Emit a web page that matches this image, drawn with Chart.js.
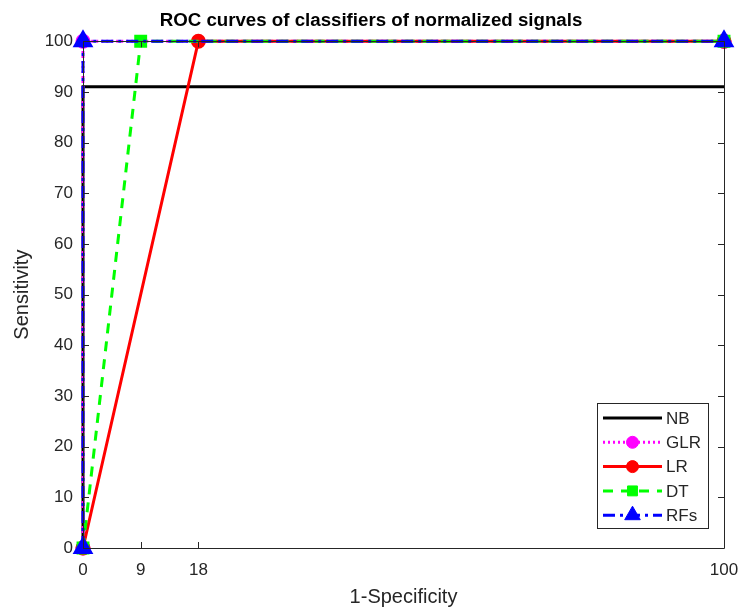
<!DOCTYPE html>
<html>
<head>
<meta charset="utf-8">
<script src="https://cdn.jsdelivr.net/npm/chart.js@4"></script>
<style>
    html, body { margin: 0; padding: 0; background: #ffffff; }
    #wrap { width: 740px; height: 609px; }
</style>
</head>
<body>
<div id="wrap"><canvas id="roc"></canvas></div>
<script>
// 數據 (1-Specificity, Sensitivity)
const seriesNames = ['NB', 'GLR', 'LR', 'DT', 'RFs'];
const nbX = [0, 0, 100];
const nbY = [0, 91, 91];
const glrX = [0, 0, 100];
const glrY = [0, 100, 100];
const lrX = [0, 18, 100];
const lrY = [0, 100, 100];
const dtX = [0, 9, 100];
const dtY = [0, 100, 100];
const rfX = [0, 0, 100];
const rfY = [0, 100, 100];
const xTicks = [0, 9, 18, 100];
const yTicks = [0, 10, 20, 30, 40, 50, 60, 70, 80, 90, 100];

const textColor = '#262626';
const axisColor = '#262626';
const fontFamily = '"Liberation Sans", Arial, sans-serif';

function toPoints(xs, ys) {
    return xs.map((x, i) => ({ x: x, y: ys[i] }));
}

// 標題置中於整張圖
const titleShift = {
    id: 'titleShift',
    afterLayout(chart) {
        if (chart.titleBlock) {
            chart.titleBlock.left += 18;
        }
    }
};

// 畫外框和向內刻度 (MATLAB 風格)
const boxPlugin = {
    id: 'boxPlugin',
    afterDatasetsDraw(chart) {
        const ctx = chart.ctx;
        const a = chart.chartArea;
        const xs = chart.scales.x;
        const ys = chart.scales.y;
        ctx.save();
        ctx.strokeStyle = axisColor;
        ctx.lineWidth = 1;
        ctx.beginPath();
        ctx.rect(Math.round(a.left) + 0.5, Math.round(a.top) + 0.5,
            Math.round(a.right - a.left), Math.round(a.bottom - a.top));
        ctx.stroke();
        const tl = 6;
        ctx.beginPath();
        xTicks.forEach(v => {
            const px = Math.round(xs.getPixelForValue(v)) + 0.5;
            ctx.moveTo(px, a.bottom); ctx.lineTo(px, a.bottom - tl);
            ctx.moveTo(px, a.top); ctx.lineTo(px, a.top + tl);
        });
        yTicks.forEach(v => {
            const py = Math.round(ys.getPixelForValue(v)) + 0.5;
            ctx.moveTo(a.left, py); ctx.lineTo(a.left + tl, py);
            ctx.moveTo(a.right, py); ctx.lineTo(a.right - tl, py);
        });
        ctx.stroke();
        ctx.restore();
    }
};

// 自訂圖例 (線段 + 標記)
const legendPlugin = {
    id: 'legendPlugin',
    afterDraw(chart) {
        const ctx = chart.ctx;
        const a = chart.chartArea;
        const boxW = 111, boxH = 125;
        const bx = a.right - 16 - boxW;
        const by = a.bottom - 20 - boxH;
        ctx.save();
        ctx.fillStyle = '#ffffff';
        ctx.fillRect(bx, by, boxW, boxH);
        ctx.strokeStyle = axisColor;
        ctx.lineWidth = 1;
        ctx.strokeRect(Math.round(bx) + 0.5, Math.round(by) + 0.5, boxW, boxH);
        const byName = {};
        chart.data.datasets.forEach(ds => { byName[ds.label] = ds; });
        seriesNames.forEach((name, i) => {
            const ds = byName[name];
            const cy = by + 15 + i * 24.3;
            const x0 = bx + 6, x1 = bx + 65, xm = (x0 + x1) / 2;
            ctx.strokeStyle = ds.borderColor;
            ctx.lineWidth = ds.borderWidth;
            ctx.setLineDash(ds.borderDash || []);
            ctx.beginPath();
            ctx.moveTo(x0, cy); ctx.lineTo(x1, cy);
            ctx.stroke();
            ctx.setLineDash([]);
            if (ds.pointRadius > 0) {
                ctx.fillStyle = ds.pointBackgroundColor;
                ctx.strokeStyle = ds.pointBorderColor;
                ctx.lineWidth = 1;
                Chart.helpers.drawPoint(ctx, {
                    pointStyle: ds.pointStyle,
                    rotation: 0,
                    borderWidth: 1,
                    radius: ds.pointRadius
                }, xm, cy);
            }
            ctx.fillStyle = textColor;
            ctx.font = '17px ' + fontFamily;
            ctx.textAlign = 'left';
            ctx.textBaseline = 'middle';
            ctx.fillText(name, x1 + 4, cy + 1);
        });
        ctx.restore();
    }
};

new Chart(document.getElementById('roc'), {
    type: 'scatter',
    data: {
        datasets: [
            {
                label: 'NB',
                data: toPoints(nbX, nbY),
                showLine: true,
                borderColor: '#000000',
                borderWidth: 3,
                pointRadius: 0,
                order: 5
            },
            {
                label: 'GLR',
                data: toPoints(glrX, glrY),
                showLine: true,
                borderColor: '#ff00ff',
                borderWidth: 3,
                borderDash: [2, 3],
                pointStyle: 'circle',
                pointRadius: 6,
                pointBackgroundColor: '#ff00ff',
                pointBorderColor: '#ff00ff',
                order: 4
            },
            {
                label: 'LR',
                data: toPoints(lrX, lrY),
                showLine: true,
                borderColor: '#ff0000',
                borderWidth: 3,
                pointStyle: 'circle',
                pointRadius: 6,
                pointBackgroundColor: '#ff0000',
                pointBorderColor: '#ff0000',
                order: 3
            },
            {
                label: 'DT',
                data: toPoints(dtX, dtY),
                showLine: true,
                borderColor: '#00ff00',
                borderWidth: 3,
                borderDash: [10, 8],
                pointStyle: 'rect',
                pointRadius: 7,
                pointBackgroundColor: '#00ff00',
                pointBorderColor: '#00ff00',
                order: 2
            },
            {
                label: 'RFs',
                data: toPoints(rfX, rfY),
                showLine: true,
                borderColor: '#0000ff',
                borderWidth: 3,
                borderDash: [12, 5, 3, 5],
                pointStyle: 'triangle',
                pointRadius: 9,
                pointBackgroundColor: '#0000ff',
                pointBorderColor: '#0000ff',
                order: 1
            }
        ]
    },
    options: {
        responsive: true,
        maintainAspectRatio: false,
        animation: false,
        clip: false,
        layout: { padding: { left: 0, right: 16, top: 0, bottom: 0 } },
        plugins: {
            legend: { display: false },
            tooltip: { enabled: false },
            title: {
                display: true,
                text: 'ROC curves of classifiers of normalized signals',
                color: '#000000',
                font: { family: fontFamily, size: 18.7, weight: 'bold' },
                padding: { top: 10, bottom: 8.8 }
            }
        },
        scales: {
            x: {
                type: 'linear',
                min: 0,
                max: 100,
                afterBuildTicks: (scale) => { scale.ticks = xTicks.map(v => ({ value: v })); },
                afterFit: (scale) => {
                    scale.height = 61;
                    scale.paddingLeft = 0;
                    scale.paddingRight = 0;
                },
                grid: { display: false, drawTicks: false },
                border: { display: false },
                ticks: {
                    color: textColor,
                    padding: 12,
                    maxRotation: 0,
                    font: { family: fontFamily, size: 17 }
                },
                title: {
                    display: true,
                    text: '1-Specificity',
                    color: textColor,
                    padding: { top: 4, bottom: 0 },
                    font: { family: fontFamily, size: 20 }
                }
            },
            y: {
                type: 'linear',
                min: 0,
                max: 100,
                afterBuildTicks: (scale) => { scale.ticks = yTicks.map(v => ({ value: v })); },
                afterFit: (scale) => { scale.width = 83; },
                grid: { display: false, drawTicks: false },
                border: { display: false },
                ticks: {
                    color: textColor,
                    padding: 10,
                    font: { family: fontFamily, size: 17 }
                },
                title: {
                    display: true,
                    text: 'Sensitivity',
                    color: textColor,
                    padding: { top: 10, bottom: 4 },
                    font: { family: fontFamily, size: 20 }
                }
            }
        }
    },
    plugins: [titleShift, boxPlugin, legendPlugin]
});
</script>
</body>
</html>
